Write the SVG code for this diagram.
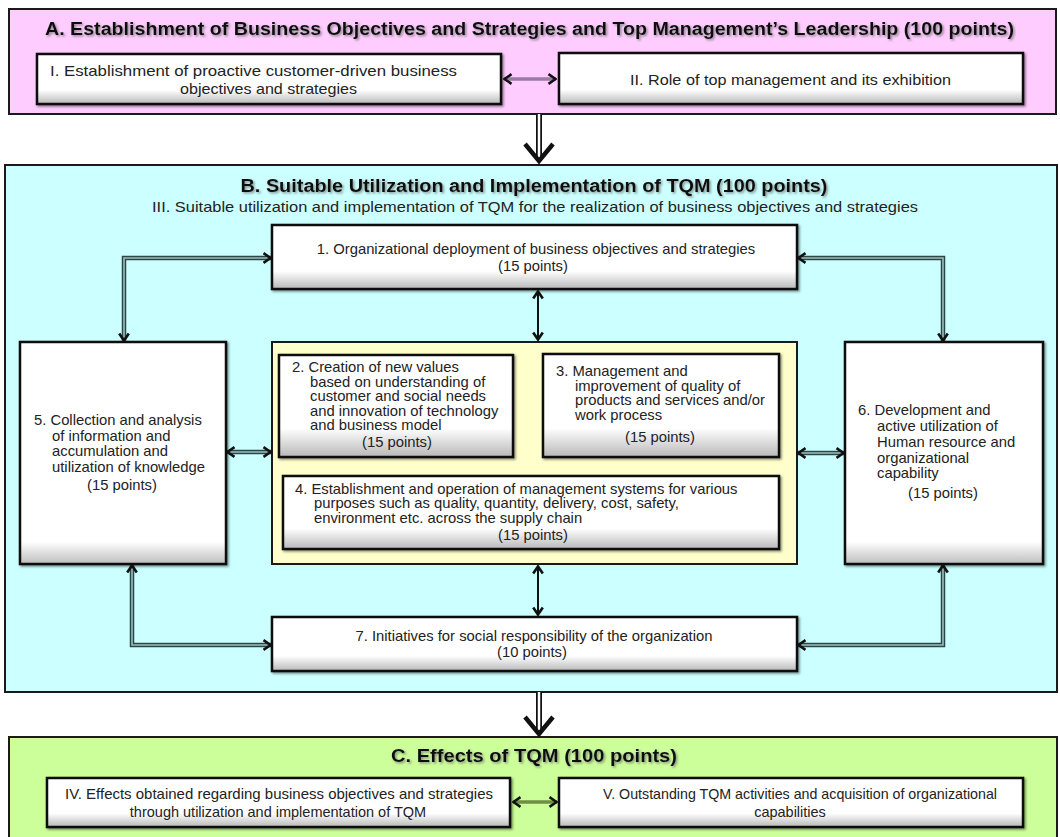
<svg xmlns="http://www.w3.org/2000/svg" xmlns:xlink="http://www.w3.org/1999/xlink" width="1060" height="837" viewBox="0 0 1060 837">
<style>
  .panel{stroke:#1a1a1a;stroke-width:2}
  .box{fill:url(#boxg);stroke:#111;stroke-width:2.5;filter:url(#sh)}
  .tall{fill:url(#boxt)}
  .t{font-family:"Liberation Sans",Arial,sans-serif;font-size:14.8px;fill:#222}
  .ts{font-family:"Liberation Sans",Arial,sans-serif;font-size:14.5px;fill:#222}
  .c{text-anchor:middle}
  .title{font-family:"Liberation Sans",Arial,sans-serif;font-weight:bold;font-size:18px;fill:#111;text-anchor:middle;filter:url(#tsh)}
  .o{fill:none;stroke:#2b4646;stroke-width:4.5}
  .i{fill:none;stroke:#9cbcbc;stroke-width:1.6}
  .m{fill:none;stroke:none;marker-start:url(#arr);marker-end:url(#arr)}
  .thin{fill:none;stroke:#111;stroke-width:2;marker-start:url(#arr);marker-end:url(#arr)}
  .big{fill:none;stroke:#111;stroke-width:6}
  .bigi{fill:none;stroke:#fff;stroke-width:2.5}
  .chev{fill:none;stroke:#111;stroke-width:4.5;stroke-linejoin:miter}
</style>
<defs>
  <linearGradient id="boxg" x1="0" y1="0" x2="0" y2="1">
    <stop offset="0" stop-color="#ffffff"/>
    <stop offset="0.72" stop-color="#ffffff"/>
    <stop offset="1" stop-color="#b8b8b8"/>
  </linearGradient>
  <linearGradient id="boxt" x1="0" y1="0" x2="0" y2="1">
    <stop offset="0" stop-color="#ffffff"/>
    <stop offset="0.9" stop-color="#ffffff"/>
    <stop offset="1" stop-color="#bdbdbd"/>
  </linearGradient>
  <filter id="sh" x="-5%" y="-10%" width="110%" height="125%">
    <feDropShadow dx="1.5" dy="1.5" stdDeviation="1" flood-color="#000" flood-opacity="0.45"/>
  </filter>
  <filter id="tsh" x="-5%" y="-30%" width="110%" height="160%">
    <feDropShadow dx="1.5" dy="1.5" stdDeviation="0.8" flood-color="#666" flood-opacity="0.7"/>
  </filter>
  <marker id="arr" viewBox="0 0 10 12" refX="9" refY="6" markerWidth="10" markerHeight="12" markerUnits="userSpaceOnUse" orient="auto-start-reverse">
    <path d="M1.5,1.2 L8.6,6 L1.5,10.8" fill="none" stroke="#111" stroke-width="2.6"/>
  </marker>
  <path id="p15" d="M271,258 H124 V341"/>
  <path id="p16" d="M798,258 H943 V341"/>
  <path id="p57" d="M132,565 V645 H271"/>
  <path id="p67" d="M943,565 V645 H798"/>
  <path id="p5y" d="M227,452 H271"/>
  <path id="py6" d="M798,453 H844"/>
</defs>

<g id="panelA">
  <rect class="panel" x="9" y="9" width="1047" height="105" fill="#ffccff"/>
  <text class="title" x="529.5" y="35" textLength="969" lengthAdjust="spacingAndGlyphs">A. Establishment of Business Objectives and Strategies and Top Management’s Leadership (100 points)</text>
</g>
<g id="panelB">
  <rect class="panel" x="5" y="165" width="1052" height="527" fill="#ccffff"/>
  <text class="title" x="534" y="192" textLength="587" lengthAdjust="spacingAndGlyphs">B. Suitable Utilization and Implementation of TQM (100 points)</text>
  <text class="ts c" x="535" y="212" textLength="766" lengthAdjust="spacingAndGlyphs">III. Suitable utilization and implementation  of TQM for the realization of business objectives  and strategies</text>
</g>
<g id="panelC">
  <rect class="panel" x="9" y="737" width="1048" height="110" fill="#ccff99"/>
  <text class="title" x="534" y="762" textLength="286" lengthAdjust="spacingAndGlyphs">C. Effects of TQM (100 points)</text>
</g>

<g id="nodeI">
  <rect class="box" x="37" y="54" width="464" height="50"/>
  <text class="ts c" x="253.5" y="76" textLength="407" lengthAdjust="spacingAndGlyphs">I. Establishment of proactive customer-driven  business</text>
  <text class="ts c" x="268.5" y="94" textLength="177" lengthAdjust="spacingAndGlyphs">objectives  and strategies</text>
</g>
<g id="nodeII">
  <rect class="box" x="559" y="53" width="464" height="51"/>
  <text class="ts c" x="790.5" y="85" textLength="321" lengthAdjust="spacingAndGlyphs">II. Role of top management  and its exhibition</text>
</g>

<g id="node1">
  <rect class="box" x="272" y="225" width="525" height="64"/>
  <text class="t c" x="536" y="254">1. Organizational deployment of business objectives and strategies</text>
  <text class="t c" x="533" y="271">(15 points)</text>
</g>
<g id="groupCore">
  <rect class="panel" x="272" y="342" width="525" height="222" fill="#ffffcc"/>
</g>
<g id="node5">
  <rect class="box tall" x="20" y="342" width="206" height="222"/>
  <text class="t" x="34" y="425">5. Collection and analysis</text>
  <text class="t" x="52" y="441">of information and</text>
  <text class="t" x="52" y="456">accumulation and</text>
  <text class="t" x="52" y="472">utilization of knowledge</text>
  <text class="t" x="87" y="490">(15 points)</text>
</g>
<g id="node2">
  <rect class="box" x="279" y="355" width="234" height="102"/>
  <text class="t" x="292" y="372">2. Creation of new values</text>
  <text class="t" x="310" y="386.5">based on understanding of</text>
  <text class="t" x="310" y="401">customer and social needs</text>
  <text class="t" x="310" y="415.5">and innovation of technology</text>
  <text class="t" x="310" y="430">and business model</text>
  <text class="t" x="362" y="447">(15 points)</text>
</g>
<g id="node3">
  <rect class="box" x="543" y="354" width="236" height="103"/>
  <text class="t" x="556" y="376">3. Management and</text>
  <text class="t" x="575" y="390.5">improvement of quality of</text>
  <text class="t" x="575" y="405">products and services and/or</text>
  <text class="t" x="575" y="419.5">work process</text>
  <text class="t" x="625" y="442">(15 points)</text>
</g>
<g id="node4">
  <rect class="box" x="283" y="476" width="496" height="73"/>
  <text class="t" x="295" y="494">4. Establishment and operation of management systems for various</text>
  <text class="t" x="314" y="508">purposes such as quality, quantity, delivery, cost, safety,</text>
  <text class="t" x="314" y="522.5">environment etc. across the supply chain</text>
  <text class="t" x="498" y="540">(15 points)</text>
</g>
<g id="node6">
  <rect class="box tall" x="845" y="342" width="198" height="222"/>
  <text class="t" x="858" y="415">6. Development and</text>
  <text class="t" x="877" y="431">active utilization of</text>
  <text class="t" x="877" y="447">Human resource and</text>
  <text class="t" x="877" y="463">organizational</text>
  <text class="t" x="877" y="478">capability</text>
  <text class="t" x="908" y="498">(15 points)</text>
</g>
<g id="node7">
  <rect class="box" x="272" y="617" width="525" height="54"/>
  <text class="t c" x="534" y="641">7. Initiatives for social responsibility of the organization</text>
  <text class="t c" x="532" y="657">(10 points)</text>
</g>

<g id="nodeIV">
  <rect class="box" x="47" y="778" width="463" height="49"/>
  <text class="ts c" x="279" y="799" textLength="428" lengthAdjust="spacingAndGlyphs">IV.  Effects obtained regarding business objectives and strategies</text>
  <text class="ts c" x="278" y="817">through utilization and implementation of TQM</text>
</g>
<g id="nodeV">
  <rect class="box" x="559" y="778" width="464" height="49"/>
  <text class="ts c" x="800" y="799" textLength="394" lengthAdjust="spacingAndGlyphs">V.  Outstanding TQM  activities and acquisition of organizational</text>
  <text class="ts c" x="790" y="817">capabilities</text>
</g>

<g id="connectors">
  <path d="M504,79 H556" fill="none" stroke="#9a7aa6" stroke-width="3.5" marker-start="url(#arr)" marker-end="url(#arr)"/>
  <path d="M513,802 H557" fill="none" stroke="#6e8f45" stroke-width="3.5" marker-start="url(#arr)" marker-end="url(#arr)"/>

  <path class="big" d="M539,114 V158"/>
  <path class="bigi" d="M539,114 V158"/>
  <path class="chev" d="M525,144 L539,161 L553,144"/>

  <path class="big" d="M539,692 V731"/>
  <path class="bigi" d="M539,692 V731"/>
  <path class="chev" d="M525,717 L539,734 L553,717"/>

  <use xlink:href="#p15" class="o"/><use xlink:href="#p15" class="i"/><use xlink:href="#p15" class="m"/>
  <use xlink:href="#p16" class="o"/><use xlink:href="#p16" class="i"/><use xlink:href="#p16" class="m"/>
  <use xlink:href="#p57" class="o"/><use xlink:href="#p57" class="i"/><use xlink:href="#p57" class="m"/>
  <use xlink:href="#p67" class="o"/><use xlink:href="#p67" class="i"/><use xlink:href="#p67" class="m"/>
  <use xlink:href="#p5y" class="o"/><use xlink:href="#p5y" class="i"/><use xlink:href="#p5y" class="m"/>
  <use xlink:href="#py6" class="o"/><use xlink:href="#py6" class="i"/><use xlink:href="#py6" class="m"/>

  <path class="thin" d="M538,291 V340"/>
  <path class="thin" d="M538,566 V615"/>
</g>
</svg>
